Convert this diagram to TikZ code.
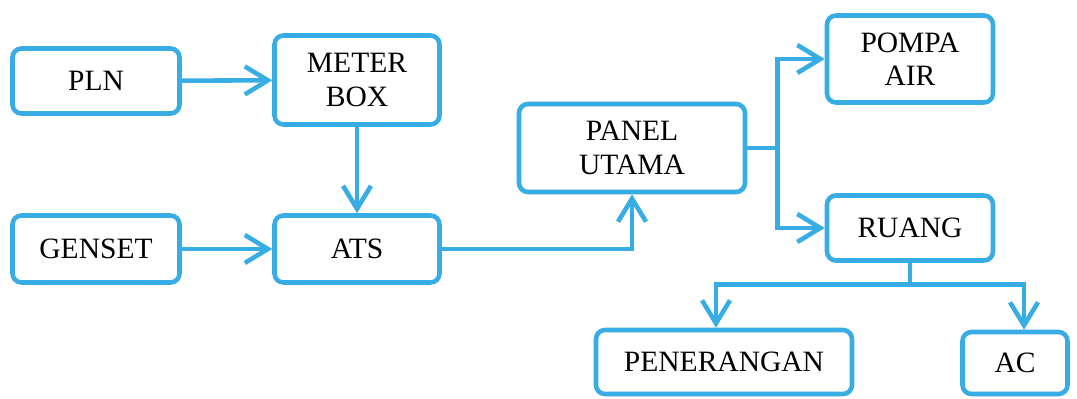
\documentclass[tikz,border=0pt]{standalone}
\usepackage{fontspec}
\setmainfont{Liberation Serif}
\usetikzlibrary{arrows.meta}
\usetikzlibrary{positioning}
\definecolor{boxblue}{RGB}{56,172,228}

\begin{document}
\begin{tikzpicture}[
  unit/.style={draw=boxblue,line width=2.6pt,rounded corners=0.18cm,fill=white,
    align=center,inner sep=0pt,font=\fontsize{16.8}{19}\selectfont},
  feed/.style={draw=boxblue,line width=2.6pt,
    -{Straight Barb[length=0.46cm,width=0.56cm,line width=2.6pt]}},
  wire/.style={draw=boxblue,line width=2.6pt}]
\useasboundingbox (0,0) rectangle (21.54,7.98);

\node[unit,minimum width=3.34cm,minimum height=1.30cm] (pln) at (1.92,6.36) {PLN};
\node[unit,minimum width=3.30cm,minimum height=1.78cm] (meter) at (7.14,6.38) {METER\\BOX};
\node[unit,minimum width=3.34cm,minimum height=1.34cm] (genset) at (1.92,3.00) {GENSET};
\node[unit,minimum width=3.30cm,minimum height=1.34cm] (ats) at (7.14,3.00) {ATS};
\node[unit,minimum width=4.52cm,minimum height=1.76cm] (panel) at (12.64,5.02) {PANEL\\UTAMA};
\node[unit,minimum width=3.32cm,minimum height=1.74cm] (pompa) at (18.20,6.80) {POMPA\\AIR};
\node[unit,minimum width=3.32cm,minimum height=1.30cm] (ruang) at (18.20,3.42) {RUANG};
\node[unit,minimum width=5.12cm,minimum height=1.28cm] (penerangan) at (14.48,0.74) {PENERANGAN};
\node[unit,minimum width=2.10cm,minimum height=1.24cm] (ac) at (20.30,0.72) {AC};

% supply side
\draw[feed] (pln) -- (meter);
\draw[feed] (meter) -- (ats);
\draw[feed] (genset) -- (ats);
\draw[feed] (ats.east) -| (panel.south);

% distribution from the main panel
\draw[wire] (panel.east) -- ++(0.6,0) coordinate (psplit);
\draw[feed] (psplit) |- (pompa.west);
\draw[feed] (psplit) |- (ruang.west);

\draw[wire] (ruang.south) -- ++(0,-0.44) coordinate (rsplit);
\draw[feed] (rsplit) -| ([xshift=-0.16cm]penerangan.north);
\draw[feed] (rsplit) -| ([xshift=0.18cm]ac.north);

\end{tikzpicture}
\end{document}
